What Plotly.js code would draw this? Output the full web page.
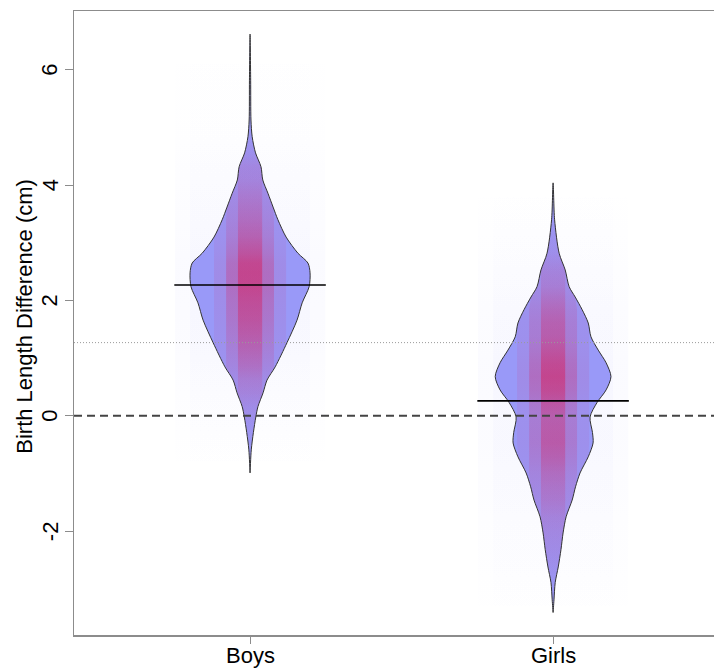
<!DOCTYPE html>
<html>
<head>
<meta charset="utf-8">
<script src="https://cdn.plot.ly/plotly-3.0.1.min.js"></script>
<style>html,body{margin:0;padding:0;background:#fff;}#chart{width:714px;height:669px;}</style>
</head>
<body>
<div id="chart"></div>
<script>
// ---- data ----
const groups = ['Boys', 'Girls'];
const groupPos = [1, 2];
// bean density profile: y value and half-width (x units)
const boysY = [6.62, 5.82, 5.13, 4.84, 4.56, 4.32, 4.09, 3.86, 3.62, 3.40, 3.10, 2.82, 2.65, 2.48, 2.24, 1.96, 1.66, 1.27, 0.85, 0.62, 0.40, 0.16, -0.02, -0.29, -0.59, -0.99];
const boysW = [0, 0.002, 0.003, 0.007, 0.018, 0.036, 0.042, 0.059, 0.076, 0.092, 0.119, 0.158, 0.191, 0.198, 0.195, 0.172, 0.155, 0.122, 0.083, 0.056, 0.043, 0.026, 0.019, 0.011, 0.004, 0];
const girlsY = [4.04, 3.40, 2.82, 2.53, 2.24, 2.06, 1.84, 1.61, 1.37, 1.14, 0.92, 0.68, 0.45, 0.23, -0.02, -0.29, -0.47, -0.71, -0.99, -1.23, -1.46, -1.75, -2.03, -2.32, -2.62, -2.89, -3.19, -3.41];
const girlsW = [0, 0.005, 0.020, 0.040, 0.053, 0.073, 0.096, 0.116, 0.125, 0.149, 0.175, 0.191, 0.175, 0.145, 0.122, 0.130, 0.132, 0.116, 0.089, 0.074, 0.063, 0.043, 0.033, 0.026, 0.017, 0.007, 0.003, 0];
const groupMeans = [2.27, 0.26];
const overallMean = 1.27;
const yTicks = [-2, 0, 2, 4, 6];
const yTitle = 'Birth Length Difference (cm)';

// ---- styling constants ----
const beanFill = '#9999f8';
const beanLine = '#333333';
const meanHalfLen = 0.25;
const bandOffsets = [0.119, 0.079, 0.040];
const bandPeaks = [0.10, 0.25, 0.45];
const outerOffsets = [0.248, 0.198];
const outerPeaks = [0.03, 0.03];

const profiles = [{y: boysY, w: boysW}, {y: girlsY, w: girlsW}];
const traces = [];

function gradient(prof, peak, rgb, expo) {
  const idx = prof.y.map((v, i) => i).sort((a, b) => prof.y[a] - prof.y[b]);
  const ymin = prof.y[idx[0]], ymax = prof.y[idx[idx.length - 1]];
  const wmax = Math.max.apply(null, prof.w);
  const cs = idx.map(i => {
    const t = (prof.y[i] - ymin) / (ymax - ymin);
    const a = peak * Math.pow(prof.w[i] / wmax, expo);
    return [t, 'rgba(' + rgb + ',' + a.toFixed(3) + ')'];
  });
  return {type: 'vertical', start: ymin, stop: ymax, colorscale: cs};
}

function beanPoly(c, prof, clip) {
  const xs = [], ys = [];
  for (let i = 0; i < prof.y.length; i++) { xs.push(c + Math.min(prof.w[i], clip)); ys.push(prof.y[i]); }
  for (let i = prof.y.length - 1; i >= 0; i--) { xs.push(c - Math.min(prof.w[i], clip)); ys.push(prof.y[i]); }
  return {x: xs, y: ys};
}

profiles.forEach((prof, g) => {
  const c = groupPos[g];
  const ymin = Math.min.apply(null, prof.y), ymax = Math.max.apply(null, prof.y);
  outerOffsets.forEach((o, k) => {
    traces.push({
      type: 'scatter', mode: 'none', x: [c - o, c + o, c + o, c - o], y: [ymin, ymin, ymax, ymax],
      fill: 'toself', fillcolor: 'rgba(120,120,255,0.02)',
      fillgradient: gradient(prof, outerPeaks[k], '110,110,255', 0.5),
      hoverinfo: 'skip', showlegend: false
    });
  });
  const full = beanPoly(c, prof, 10);
  traces.push({
    type: 'scatter', mode: 'lines', x: full.x, y: full.y, fill: 'toself', fillcolor: beanFill,
    line: {color: 'rgba(0,0,0,0)', width: 0, shape: 'spline', smoothing: 0.8},
    hoverinfo: 'skip', showlegend: false
  });
  bandOffsets.forEach((o, k) => {
    const p = beanPoly(c, prof, o);
    traces.push({
      type: 'scatter', mode: 'none', x: p.x, y: p.y, fill: 'toself', fillcolor: 'rgba(220,20,80,0.1)',
      fillgradient: gradient(prof, bandPeaks[k], '220,20,80', 1.0),
      hoverinfo: 'skip', showlegend: false
    });
  });
  traces.push({
    type: 'scatter', mode: 'lines', x: full.x, y: full.y,
    line: {color: beanLine, width: 1, shape: 'spline', smoothing: 0.8},
    hoverinfo: 'skip', showlegend: false
  });
  traces.push({
    type: 'scatter', mode: 'lines', x: [c - meanHalfLen, c + meanHalfLen], y: [groupMeans[g], groupMeans[g]],
    line: {color: '#000000', width: 1.6}, hoverinfo: 'skip', showlegend: false
  });
});

const axisGray = '#8c8c8c';
const fnt = 'Liberation Sans, Arial, Helvetica, sans-serif';
const plotW = 714 - 74;

const annotations = groups.map((g, i) => ({
  text: g, xref: 'x', x: groupPos[i], yref: 'paper', y: 0, yanchor: 'top', xanchor: 'center',
  yshift: -6, showarrow: false, font: {family: fnt, size: 22, color: '#000'}
}));
yTicks.forEach(v => annotations.push({
  text: String(v), xref: 'paper', x: -(74 - 50) / plotW, xanchor: 'center', yref: 'y', y: v, yanchor: 'middle',
  textangle: -90, showarrow: false, font: {family: fnt, size: 22, color: '#000'}
}));
annotations.push({
  text: yTitle, xref: 'paper', x: -(74 - 25) / plotW, xanchor: 'center', yref: 'paper', y: 0.51, yanchor: 'middle',
  textangle: -90, showarrow: false, font: {family: fnt, size: 22, color: '#000'}
});

const layout = {
  width: 714, height: 669,
  margin: {l: 74, r: 0, t: 11, b: 34, pad: 0},
  paper_bgcolor: '#ffffff', plot_bgcolor: '#ffffff',
  showlegend: false, hovermode: false,
  font: {family: fnt, size: 19, color: '#000'},
  xaxis: {
    range: [0.419, 2.531], tickvals: groupPos, ticktext: groups, showticklabels: false,
    showgrid: false, zeroline: false, showline: true, mirror: true,
    linecolor: axisGray, linewidth: 1.5, ticks: 'outside', ticklen: 7, tickcolor: axisGray, tickwidth: 1,
    fixedrange: true
  },
  yaxis: {
    range: [-3.80, 7.02], tickvals: yTicks, showticklabels: false,
    showgrid: false, zeroline: false, showline: true, mirror: false,
    linecolor: axisGray, linewidth: 1.5, ticks: 'outside', ticklen: 8, tickcolor: axisGray, tickwidth: 1,
    fixedrange: true
  },
  annotations: annotations,
  shapes: [
    {type: 'line', xref: 'paper', x0: 0, x1: 1, yref: 'y', y0: 0, y1: 0, layer: 'above',
     line: {color: '#444444', width: 2, dash: '8px,5px'}},
    {type: 'line', xref: 'paper', x0: 0, x1: 1, yref: 'y', y0: overallMean, y1: overallMean, layer: 'above',
     line: {color: '#9a9a9a', width: 1, dash: '1px,2px'}}
  ]
};

Plotly.newPlot('chart', traces, layout, {displayModeBar: false, staticPlot: true});
</script>
</body>
</html>
